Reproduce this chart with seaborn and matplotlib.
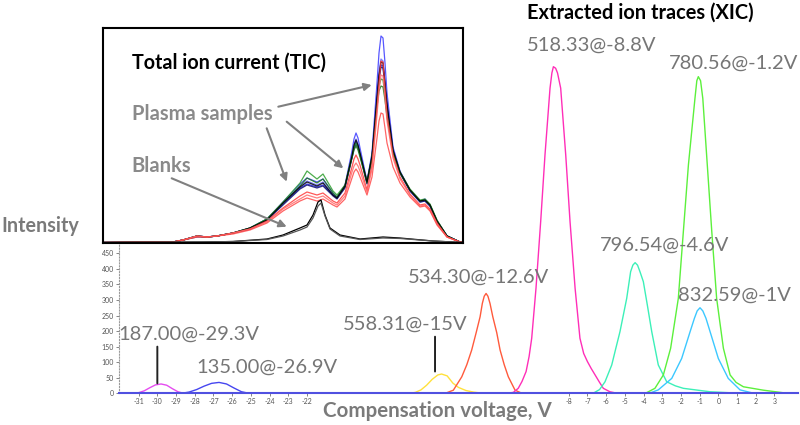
import numpy as np
import pandas as pd
import matplotlib
matplotlib.use("Agg")
import matplotlib.pyplot as plt
import seaborn as sns

sns.set_theme(style="white")
plt.rcParams["font.family"] = ["Lato", "DejaVu Sans"]
plt.rcParams["axes.unicode_minus"] = False

# ---------------- Extracted ion traces (main chart) ----------------
ion_names = ["187.00@-29.3V", "135.00@-26.9V", "558.31@-15V", "534.30@-12.6V",
             "518.33@-8.8V", "796.54@-4.6V", "780.56@-1.2V", "832.59@-1V"]
ion_colors = ["#E54CF0", "#4646F0", "#FFE13C", "#FF5A3C",
              "#FF2EB8", "#3CF0B8", "#5CF03C", "#3CC8FF"]

cv_187 = [-31.3, -31.0, -30.7, -30.4, -30.1, -29.8, -29.5, -29.2, -28.9, -28.6]
int_187 = [0, 2, 8, 18, 27, 30, 26, 15, 5, 0]

cv_135 = [-28.7, -28.3, -27.9, -27.5, -27.1, -26.7, -26.3, -25.9, -25.5, -25.1]
int_135 = [0, 4, 12, 23, 32, 35, 30, 17, 5, 0]

cv_558 = [-16.5, -16.2, -15.9, -15.6, -15.3, -15.0, -14.8, -14.5, -14.2, -13.9, -13.5, -13.1, -12.6]
int_558 = [0, 3, 11, 26, 45, 59, 62, 56, 33, 19, 9, 4, 0]

cv_534 = [-14.6, -14.17, -13.72, -13.45, -13.19, -12.95, -12.74, -12.62, -12.52, -12.42,
          -12.32, -12.21, -12.06, -11.85, -11.67, -11.45, -11.23, -10.87, -10.5]
int_534 = [0, 10, 53, 92, 139, 195, 246, 289, 312, 321, 312, 289, 246, 195, 139, 92, 53, 10, 0]

cv_518 = [-11.3, -10.96, -10.7, -10.5, -10.28, -10.12, -9.98, -9.75, -9.5, -9.27, -9.0, -8.9,
          -8.82, -8.7, -8.6, -8.43, -8.16, -7.93, -7.66, -7.4, -7.2, -7.0, -6.8, -6.59,
          -6.35, -6.15, -5.8, -5.4]
int_518 = [0, 3, 16, 38, 70, 118, 177, 338, 552, 766, 981, 1030, 1050, 1045, 1030, 981, 766,
           552, 338, 177, 128, 102, 80, 59, 35, 16, 5, 0]

cv_796 = [-6.7, -6.35, -6.06, -5.7, -5.48, -5.26, -4.9, -4.69, -4.57, -4.45, -4.32, -4.19,
          -4.01, -3.8, -3.56, -3.21, -2.76, -2.3, -1.87, -0.45, 1.2]
int_796 = [0, 12, 37, 91, 145, 198, 305, 391, 412, 420, 412, 391, 359, 285, 198, 91, 37, 24,
           16, 5, 0]

cv_780 = [-3.9, -3.39, -2.94, -2.55, -2.14, -1.87, -1.6, -1.25, -1.15, -1.07, -0.95, -0.83,
          -0.59, -0.35, -0.09, 0.27, 0.63, 0.95, 1.34, 2.41, 3.7]
int_780 = [0, 16, 59, 145, 305, 520, 734, 948, 1005, 1018, 1005, 948, 734, 520, 305, 145, 59,
           35, 21, 10, 0]

cv_832 = [-3.7, -3.21, -2.49, -1.96, -1.51, -1.28, -1.13, -0.98, -0.83, -0.66, -0.44, 0.0,
          0.53, 1.16, 1.9]
int_832 = [0, 11, 48, 112, 198, 241, 265, 275, 265, 241, 198, 112, 48, 11, 0]

ion_cv = [cv_187, cv_135, cv_558, cv_534, cv_518, cv_796, cv_780, cv_832]
ion_int = [int_187, int_135, int_558, int_534, int_518, int_796, int_780, int_832]

# label positions (CV, intensity) for each ion annotation
label_cv = [-28.31, -24.15, -16.75, -12.80, -6.77, -2.90, 0.79, 0.84]
label_int = [191, 85, 223, 374, 1120, 475, 1060, 314]

# leader lines (CV, low, high)
leader_cv = [-30.0, -15.15]
leader_lo = [32, 70]
leader_hi = [150, 182]

x_ticks = list(range(-31, -21)) + list(range(-8, 4))
y_ticks = [0, 50, 100, 150, 200, 250, 300, 350, 400, 450]

# ---------------- Total ion current (inset) ----------------
tic_x = [0, 70, 80, 94, 104, 114, 130, 147, 164, 180, 197, 204, 214, 220, 230, 234, 242, 249,
         251, 253, 255, 257, 264, 269, 274, 276, 278, 280, 282, 284, 290, 297, 307, 317, 322,
         327, 334, 344, 357, 360]
tic_blue1 = [0.5, 1, 3, 7, 6, 7, 10, 15, 24, 41, 59, 65, 61, 64, 50, 46, 58, 92, 104, 110, 105,
             95, 62, 90, 160, 190, 207, 205, 180, 150, 96, 72, 53, 42, 44, 38, 22, 7, 1, 0.5]
tic_blue2 = [0.5, 1, 3, 7, 6, 7, 10, 15, 24, 40, 57, 62, 58, 61, 49, 45, 57, 88, 99, 104, 99,
             91, 61, 88, 150, 172, 184, 182, 163, 142, 94, 71, 53, 42, 43, 37, 22, 7, 1, 0.5]
tic_blue3 = [0.5, 1, 3, 7, 6, 7, 10, 14, 23, 39, 55, 59, 56, 58, 48, 45, 56, 86, 96, 101, 97,
             89, 60, 86, 144, 166, 178, 177, 158, 138, 93, 70, 52, 41, 42, 37, 22, 7, 1, 0.5]
tic_navy = [0.5, 1, 3, 6, 6, 7, 10, 14, 23, 38, 54, 58, 55, 57, 47, 44, 55, 85, 94, 99, 95, 88,
            59, 85, 142, 163, 176, 175, 156, 136, 92, 70, 52, 41, 42, 37, 21, 7, 1, 0.5]
tic_green1 = [0.5, 1, 3, 7, 6, 7, 10, 15, 24, 41, 60, 72, 64, 69, 52, 48, 58, 87, 96, 100, 96,
              88, 62, 86, 140, 157, 164, 163, 148, 130, 92, 71, 54, 43, 44, 39, 23, 7, 1, 0.5]
tic_green2 = [0.5, 1, 3, 7, 6, 7, 10, 15, 24, 40, 57, 65, 60, 64, 50, 46, 57, 85, 93, 97, 93,
              86, 60, 84, 136, 152, 157, 156, 143, 126, 90, 70, 53, 42, 43, 38, 22, 7, 1, 0.5]
tic_black = [0.5, 1, 3, 7, 6, 7, 10, 15, 23, 40, 56, 61, 57, 60, 48, 45, 57, 87, 98, 103, 98,
             90, 61, 87, 146, 168, 181, 180, 160, 139, 93, 71, 53, 42, 43, 38, 22, 7, 1, 0.5]
tic_red1 = [0.5, 1, 3, 7, 6, 7, 10, 14, 22, 35, 47, 51, 48, 50, 42, 40, 50, 76, 84, 88, 84, 78,
            53, 78, 135, 160, 182, 181, 155, 128, 88, 66, 49, 38, 39, 34, 20, 6, 1, 0.5]
tic_red2 = [0.5, 1, 3, 7, 6, 7, 10, 14, 21, 34, 44, 48, 45, 47, 40, 38, 47, 71, 77, 80, 77, 72,
            51, 74, 128, 152, 168, 167, 145, 122, 85, 64, 48, 37, 38, 33, 19, 6, 1, 0.5]
tic_red3 = [0.5, 1, 3, 6, 6, 7, 9, 13, 20, 32, 42, 45, 42, 44, 38, 36, 44, 65, 71, 74, 71, 66,
            48, 66, 105, 122, 130, 129, 115, 100, 76, 60, 46, 36, 37, 32, 18, 6, 1, 0.5]

tic_names = ["blue1", "blue2", "blue3", "navy", "green1", "green2", "black", "red1", "red2", "red3"]
tic_colors = ["#3A3AFF", "#6A6AFF", "#2424E0", "#101070", "#2E9E2E", "#1E7A1E", "#000000",
              "#FF3A3A", "#FF6A6A", "#FF4A4A"]
tic_series = [tic_blue1, tic_blue2, tic_blue3, tic_navy, tic_green1, tic_green2, tic_black,
              tic_red1, tic_red2, tic_red3]

blank_x = [0, 100, 130, 164, 180, 197, 204, 210, 215, 218, 222, 227, 237, 257, 280, 297, 330, 360]
blank1 = [0.5, 1, 1.5, 4, 8, 15, 18, 28, 41, 43, 28, 15, 8, 4, 6, 5, 2, 0.5]
blank2 = [0.5, 1, 1.5, 3.5, 7, 13, 16, 25, 37, 40, 27, 14, 7, 3.5, 5, 4.5, 2, 0.5]
blank_names = ["blank1", "blank2"]
blank_colors = ["#000000", "#555555"]

# arrows (start -> end) in inset coordinates
arrow_start = [(175.3, 136.3), (183.7, 121.3), (163.7, 114.7), (68.7, 64.7)]
arrow_end = [(268.7, 158.0), (240.3, 74.7), (183.7, 61.3), (183.7, 16.3)]

# ---------------- Figure ----------------
W, H = 800, 425
fig = plt.figure(figsize=(W / 100, H / 100), dpi=100)
fig.patch.set_facecolor("white")

x_min, x_max = -32.05, 4.25
y_max = 1150
ax = fig.add_axes([119 / W, (H - 393.3) / H, 678.8 / W, 357.7 / H])

ion_df = pd.concat([pd.DataFrame({"cv": c, "intensity": v, "ion": n})
                    for c, v, n in zip(ion_cv, ion_int, ion_names)], ignore_index=True)
sns.lineplot(data=ion_df, x="cv", y="intensity", hue="ion", hue_order=ion_names,
             palette=dict(zip(ion_names, ion_colors)), estimator=None, sort=False,
             legend=False, linewidth=1.0, ax=ax)

ax.set_xlim(x_min, x_max)
ax.set_ylim(0, y_max)
ax.set_xticks(x_ticks)
ax.set_xticklabels([str(t) for t in x_ticks])
ax.set_yticks(y_ticks)
ax.set_yticklabels([str(t) for t in y_ticks])
ax.tick_params(axis="both", labelsize=5, colors="#555555", length=2, width=0.5, pad=1.5)
ax.tick_params(axis="x", bottom=True)
ax.tick_params(axis="y", left=True)
ax.set_xlabel("")
ax.set_ylabel("")
for s in ["top", "right"]:
    ax.spines[s].set_visible(False)
ax.spines["left"].set_color("#9A9A9A")
ax.spines["left"].set_linestyle(":")
ax.spines["left"].set_linewidth(0.8)
ax.spines["bottom"].set_color("#5050E0")
ax.spines["bottom"].set_linewidth(1.5)

for name, lx, ly in zip(ion_names, label_cv, label_int):
    ax.text(lx, ly, name, ha="center", va="center", fontsize=14.5, color="#767676",
            clip_on=False)
for lx, lo, hi in zip(leader_cv, leader_lo, leader_hi):
    ax.annotate("", xy=(lx, lo), xytext=(lx, hi),
                arrowprops=dict(arrowstyle="-", color="#222222", lw=1.4,
                                shrinkA=0, shrinkB=0))

fig.text(640.5 / W, 1 - 12.5 / H, "Extracted ion traces (XIC)", ha="center", va="center",
         fontsize=14.4, fontweight="bold", color="black")
fig.text(437.5 / W, 1 - 411 / H, "Compensation voltage, V", ha="center", va="center",
         fontsize=14.8, fontweight="bold", color="#7A7A7A")
fig.text(40 / W, 1 - 226.5 / H, "Intensity", ha="center", va="center",
         fontsize=14.2, fontweight="bold", color="#7A7A7A")

# ---------------- Inset ----------------
ax2 = fig.add_axes([103 / W, (H - 243) / H, 360 / W, 215 / H])
ax2.set_facecolor("white")
tic_df = pd.concat([pd.DataFrame({"x": tic_x, "y": s, "trace": n})
                    for s, n in zip(tic_series, tic_names)], ignore_index=True)
blank_df = pd.concat([pd.DataFrame({"x": blank_x, "y": s, "trace": n})
                      for s, n in zip([blank1, blank2], blank_names)], ignore_index=True)
sns.lineplot(data=tic_df, x="x", y="y", hue="trace", hue_order=tic_names,
             palette=dict(zip(tic_names, tic_colors)), estimator=None, sort=False,
             legend=False, linewidth=0.9, alpha=0.85, ax=ax2)
sns.lineplot(data=blank_df, x="x", y="y", hue="trace", hue_order=blank_names,
             palette=dict(zip(blank_names, blank_colors)), estimator=None, sort=False,
             legend=False, linewidth=0.9, ax=ax2)
ax2.set_xlim(0, 360)
ax2.set_ylim(0, 215)
ax2.set_xticks([])
ax2.set_yticks([])
ax2.set_xlabel("")
ax2.set_ylabel("")
for s in ax2.spines.values():
    s.set_visible(True)
    s.set_color("black")
    s.set_linewidth(1.5)

ax2.text(28.7, 180.5, "Total ion current (TIC)", ha="left", va="center", fontsize=14.2,
         fontweight="bold", color="black")
ax2.text(28.7, 129, "Plasma samples", ha="left", va="center", fontsize=14.5,
         fontweight="bold", color="#8A8A8A")
ax2.text(28.7, 77.5, "Blanks", ha="left", va="center", fontsize=14.5,
         fontweight="bold", color="#8A8A8A")
for st, en in zip(arrow_start, arrow_end):
    ax2.annotate("", xy=en, xytext=st,
                 arrowprops=dict(arrowstyle="-|>", color="#808080", lw=1.5,
                                 mutation_scale=11, shrinkA=0, shrinkB=0))

fig.savefig("out.png", dpi=100, facecolor="white")
